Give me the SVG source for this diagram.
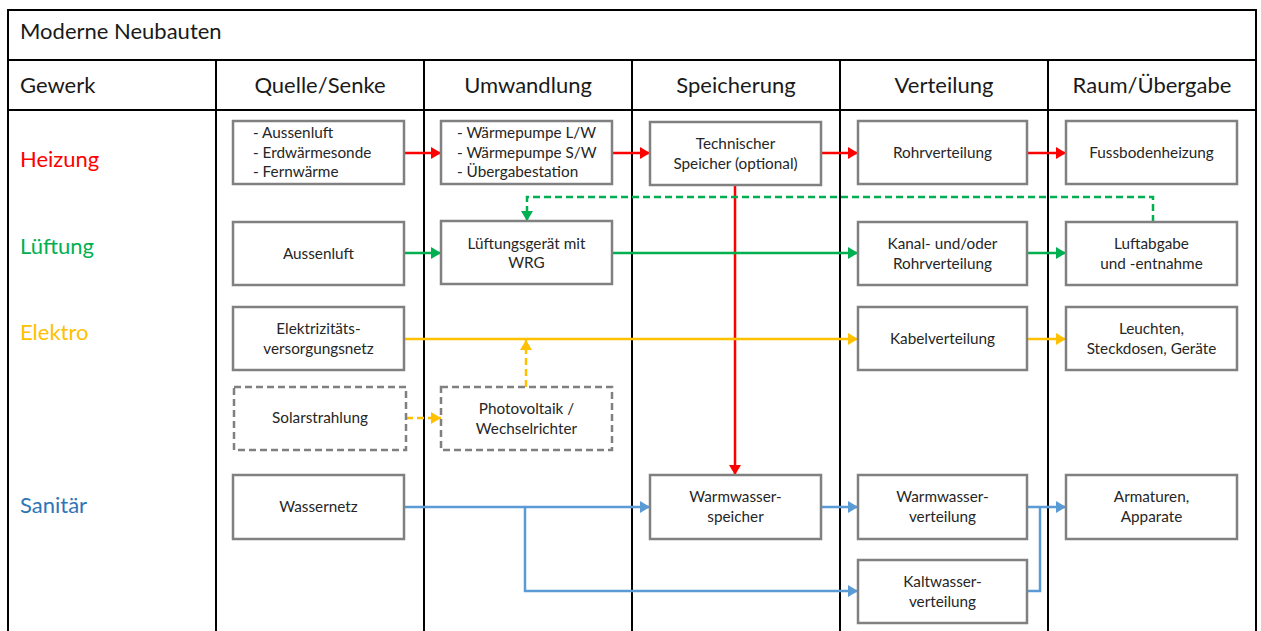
<svg xmlns="http://www.w3.org/2000/svg" width="1261" height="631" viewBox="0 0 1261 631">
<style>
.grid{stroke:#000;stroke-width:2;fill:none}
.hdr{font-family:Lato,"Liberation Sans",sans-serif;font-size:22px;fill:#1a1a1a}
.lbl{font-family:Lato,"Liberation Sans",sans-serif;font-size:22px}
.box{fill:#fff;stroke:#808080;stroke-width:2.5}
.dbox{fill:#fff;stroke:#808080;stroke-width:2.5;stroke-dasharray:7 4}
.t{font-family:Lato,"Liberation Sans",sans-serif;font-size:15.3px;fill:#262626;text-anchor:middle}
.tl{font-family:Lato,"Liberation Sans",sans-serif;font-size:15.3px;fill:#262626}
.c{fill:none;stroke-width:2.5}
.red{stroke:#FF0000}
.green{stroke:#00B050}
.yellow{stroke:#FFC000}
.blue{stroke:#5B9BD5}
.dash{stroke-dasharray:7 4}
</style>
<defs>
<marker id="aR" markerUnits="userSpaceOnUse" markerWidth="11" markerHeight="13" refX="10" refY="6" orient="auto"><path d="M0,0 L10,6 L0,12 z" fill="#FF0000"/></marker>
<marker id="aG" markerUnits="userSpaceOnUse" markerWidth="11" markerHeight="13" refX="10" refY="6" orient="auto"><path d="M0,0 L10,6 L0,12 z" fill="#00B050"/></marker>
<marker id="aY" markerUnits="userSpaceOnUse" markerWidth="11" markerHeight="13" refX="10" refY="6" orient="auto"><path d="M0,0 L10,6 L0,12 z" fill="#FFC000"/></marker>
<marker id="aB" markerUnits="userSpaceOnUse" markerWidth="11" markerHeight="13" refX="10" refY="6" orient="auto"><path d="M0,0 L10,6 L0,12 z" fill="#5B9BD5"/></marker>
</defs>
<rect width="1261" height="631" fill="#fff"/>
<g id="table">
<path class="grid" d="M8,640 V10 H1256 V640 M8,60 H1256 M8,110 H1256 M216,60 V640 M424,60 V640 M632,60 V640 M840,60 V640 M1048,60 V640"/>
<text class="hdr" x="20" y="39">Moderne Neubauten</text>
<text class="hdr" x="20" y="93">Gewerk</text>
<text class="hdr" x="320" y="93" text-anchor="middle">Quelle/Senke</text>
<text class="hdr" x="528" y="93" text-anchor="middle">Umwandlung</text>
<text class="hdr" x="736" y="93" text-anchor="middle">Speicherung</text>
<text class="hdr" x="944" y="93" text-anchor="middle">Verteilung</text>
<text class="hdr" x="1152" y="93" text-anchor="middle">Raum/Übergabe</text>
<text class="lbl" x="20" y="167" fill="#FF0000">Heizung</text>
<text class="lbl" x="20" y="254" fill="#00B050">Lüftung</text>
<text class="lbl" x="20" y="340" fill="#FFC000">Elektro</text>
<text class="lbl" x="20" y="513" fill="#2E75B6">Sanitär</text>
</g>
<g id="connectors">
<line class="c red" x1="404" y1="153" x2="441" y2="153" marker-end="url(#aR)"/>
<line class="c red" x1="612" y1="153" x2="650" y2="153" marker-end="url(#aR)"/>
<line class="c red" x1="821" y1="153" x2="858" y2="153" marker-end="url(#aR)"/>
<line class="c red" x1="1027" y1="153" x2="1066" y2="153" marker-end="url(#aR)"/>
<line class="c red" x1="735" y1="184" x2="735" y2="475" marker-end="url(#aR)"/>
<path class="c green dash" d="M1153,222 V197 H527 V221" marker-end="url(#aG)"/>
<line class="c green" x1="404" y1="253" x2="441" y2="253" marker-end="url(#aG)"/>
<line class="c green" x1="612" y1="253" x2="858" y2="253" marker-end="url(#aG)"/>
<line class="c green" x1="1027" y1="253" x2="1066" y2="253" marker-end="url(#aG)"/>
<line class="c yellow" x1="404" y1="339" x2="858" y2="339" marker-end="url(#aY)"/>
<line class="c yellow" x1="1027" y1="339" x2="1066" y2="339" marker-end="url(#aY)"/>
<line class="c yellow dash" x1="526" y1="387" x2="526" y2="340" marker-end="url(#aY)"/>
<line class="c yellow dash" x1="406" y1="418" x2="441" y2="418" marker-end="url(#aY)"/>
<line class="c blue" x1="404" y1="507" x2="650" y2="507" marker-end="url(#aB)"/>
<path class="c blue" d="M525,507 V591 H858" marker-end="url(#aB)"/>
<line class="c blue" x1="821" y1="507" x2="858" y2="507" marker-end="url(#aB)"/>
<line class="c blue" x1="1027" y1="507" x2="1066" y2="507" marker-end="url(#aB)"/>
<path class="c blue" d="M1027,591 H1040 V507"/>
</g>
<g id="h-quelle"><rect class="box" x="233" y="121" width="171" height="63"/>
<text class="tl" x="253" y="138">- Aussenluft</text><text class="tl" x="253" y="158">- Erdwärmesonde</text><text class="tl" x="253" y="177">- Fernwärme</text></g>
<g id="h-umwandlung"><rect class="box" x="441" y="121" width="171" height="63"/>
<text class="tl" x="457" y="138">- Wärmepumpe L/W</text><text class="tl" x="457" y="158">- Wärmepumpe S/W</text><text class="tl" x="457" y="177">- Übergabestation</text></g>
<g id="h-speicher"><rect class="box" x="650" y="122" width="171" height="63"/>
<text class="t" x="735.5" y="149">Technischer</text><text class="t" x="735.5" y="169">Speicher (optional)</text></g>
<g id="h-verteilung"><rect class="box" x="858" y="121" width="169" height="63"/>
<text class="t" x="942.5" y="158">Rohrverteilung</text></g>
<g id="h-raum"><rect class="box" x="1066" y="121" width="171" height="63"/>
<text class="t" x="1151.5" y="158">Fussbodenheizung</text></g>
<g id="l-quelle"><rect class="box" x="233" y="222" width="171" height="63"/>
<text class="t" x="318.5" y="259">Aussenluft</text></g>
<g id="l-umwandlung"><rect class="box" x="441" y="221" width="171" height="63"/>
<text class="t" x="526.5" y="249">Lüftungsgerät mit</text><text class="t" x="526.5" y="268">WRG</text></g>
<g id="l-verteilung"><rect class="box" x="858" y="222" width="169" height="63"/>
<text class="t" x="942.5" y="249">Kanal- und/oder</text><text class="t" x="942.5" y="269">Rohrverteilung</text></g>
<g id="l-raum"><rect class="box" x="1066" y="222" width="171" height="63"/>
<text class="t" x="1151.5" y="249">Luftabgabe</text><text class="t" x="1151.5" y="269">und -entnahme</text></g>
<g id="e-quelle"><rect class="box" x="233" y="307" width="171" height="63"/>
<text class="t" x="318.5" y="334">Elektrizitäts-</text><text class="t" x="318.5" y="354">versorgungsnetz</text></g>
<g id="e-verteilung"><rect class="box" x="858" y="307" width="169" height="63"/>
<text class="t" x="942.5" y="344">Kabelverteilung</text></g>
<g id="e-raum"><rect class="box" x="1066" y="307" width="171" height="63"/>
<text class="t" x="1151.5" y="334">Leuchten,</text><text class="t" x="1151.5" y="354">Steckdosen, Geräte</text></g>
<g id="solar"><rect class="dbox" x="234" y="387" width="172" height="63"/>
<text class="t" x="320" y="423">Solarstrahlung</text></g>
<g id="pv"><rect class="dbox" x="441" y="387" width="171" height="63"/>
<text class="t" x="526.5" y="414">Photovoltaik /</text><text class="t" x="526.5" y="434">Wechselrichter</text></g>
<g id="s-quelle"><rect class="box" x="233" y="475" width="171" height="64"/>
<text class="t" x="318.5" y="512">Wassernetz</text></g>
<g id="s-speicher"><rect class="box" x="650" y="475" width="171" height="64"/>
<text class="t" x="735.5" y="502">Warmwasser-</text><text class="t" x="735.5" y="522">speicher</text></g>
<g id="s-ww-verteilung"><rect class="box" x="858" y="475" width="169" height="64"/>
<text class="t" x="942.5" y="502">Warmwasser-</text><text class="t" x="942.5" y="522">verteilung</text></g>
<g id="s-raum"><rect class="box" x="1066" y="475" width="171" height="64"/>
<text class="t" x="1151.5" y="502">Armaturen,</text><text class="t" x="1151.5" y="522">Apparate</text></g>
<g id="s-kw-verteilung"><rect class="box" x="858" y="560" width="169" height="63"/>
<text class="t" x="942.5" y="587">Kaltwasser-</text><text class="t" x="942.5" y="607">verteilung</text></g>
</svg>
